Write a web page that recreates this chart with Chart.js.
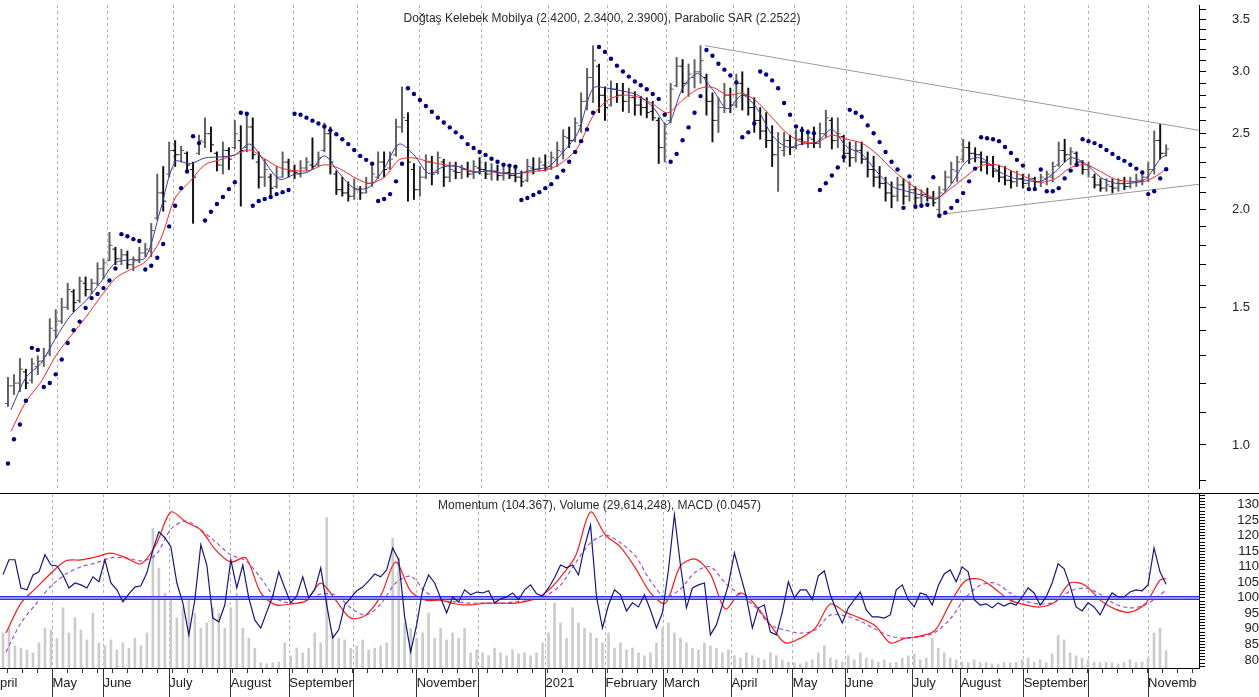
<!DOCTYPE html>
<html>
<head>
<meta charset="utf-8">
<title>Doğtaş Kelebek Mobilya</title>
<script src="https://cdn.jsdelivr.net/npm/chart.js@4.4.0/dist/chart.umd.min.js"></script>
<style>
  html, body { margin: 0; padding: 0; background: #fff; }
  canvas { display: block; }
  .sep { width: 1259px; height: 1px; background: #000; }
</style>
</head>
<body>
<canvas id="priceChart" width="1259" height="493"></canvas>
<div class="sep"></div>
<canvas id="indChart" width="1259" height="203"></canvas>
<script>
// x axis is in trading days; month starts and their labels
const monthDays = [0, 17.5, 34.5, 56.5, 77, 96.5, 118, 139, 159.5, 182, 202, 221.5, 244, 264.5, 282, 304.5, 320.5, 341.5, 363, 383];
const monthLabels = ['pril', 'May', 'June', 'July', 'August', 'September', '', 'November', '', '2021', 'February', 'March', 'April', 'May', 'June', 'July', 'August', 'September', '', 'Novemb'];

// price bars, one every 2 trading days
const opens = [
  1.13,1.19,1.2,1.24,1.21,1.26,1.28,1.31,1.4,1.44,
  1.5,1.57,1.53,1.61,1.58,1.61,1.68,1.72,1.78,1.73,
  1.75,1.7,1.72,1.76,1.77,1.95,2.1,2.22,2.38,2.35,
  2.36,2.25,2.36,2.44,2.5,2.36,2.28,2.38,2.4,2.45,
  2.4,2.55,2.3,2.2,2.2,2.14,2.2,2.3,2.24,2.22,
  2.26,2.28,2.28,2.38,2.5,2.22,2.12,2.1,2.08,2.12,
  2.1,2.16,2.2,2.3,2.26,2.35,2.55,2.6,2.25,2.12,
  2.2,2.3,2.23,2.3,2.2,2.24,2.23,2.25,2.22,2.26,
  2.25,2.22,2.24,2.21,2.23,2.21,2.2,2.18,2.26,2.25,
  2.28,2.27,2.32,2.37,2.47,2.45,2.56,2.75,2.95,3.05,
  2.8,2.72,2.85,2.8,2.75,2.78,2.72,2.7,2.67,2.6,
  2.4,2.6,2.88,3.05,2.9,2.95,3.0,2.95,2.75,2.6,
  2.7,2.8,2.72,2.9,2.8,2.7,2.6,2.52,2.45,2.35,
  2.38,2.45,2.4,2.46,2.44,2.46,2.43,2.5,2.6,2.45,
  2.48,2.36,2.33,2.38,2.32,2.25,2.2,2.16,2.1,2.08,
  2.15,2.08,2.12,2.07,2.09,2.07,2.0,2.12,2.2,2.24,
  2.32,2.4,2.36,2.35,2.3,2.28,2.24,2.2,2.18,2.17,
  2.19,2.16,2.19,2.17,2.19,2.2,2.28,2.38,2.35,2.36,
  2.3,2.25,2.2,2.15,2.13,2.14,2.13,2.16,2.14,2.17,
  2.18,2.2,2.25,2.45,2.36
];
const highs = [
  1.22,1.23,1.29,1.25,1.29,1.30,1.33,1.45,1.49,1.54,
  1.61,1.58,1.64,1.64,1.63,1.71,1.73,1.87,1.79,1.78,
  1.77,1.74,1.79,1.81,1.92,2.22,2.27,2.44,2.45,2.41,
  2.37,2.30,2.49,2.62,2.55,2.37,2.44,2.40,2.6,2.56,
  2.66,2.62,2.37,2.32,2.22,2.27,2.37,2.32,2.28,2.31,
  2.33,2.47,2.37,2.58,2.55,2.24,2.2,2.17,2.19,2.14,
  2.2,2.27,2.37,2.37,2.37,2.61,2.87,2.66,2.29,2.27,
  2.35,2.34,2.37,2.32,2.3,2.3,2.28,2.3,2.31,2.33,
  2.3,2.29,2.28,2.27,2.28,2.27,2.24,2.32,2.33,2.33,
  2.35,2.37,2.44,2.53,2.55,2.62,2.82,3.03,3.24,3.07,
  2.87,2.92,2.9,2.9,2.86,2.83,2.79,2.78,2.75,2.62,
  2.58,2.9,3.13,3.11,3.07,3.11,3.24,2.98,2.82,2.78,
  2.9,2.86,2.98,3.0,2.86,2.78,2.7,2.66,2.56,2.51,
  2.51,2.49,2.53,2.55,2.53,2.55,2.58,2.68,2.62,2.62,
  2.49,2.44,2.44,2.44,2.37,2.34,2.27,2.2,2.17,2.2,
  2.19,2.17,2.14,2.12,2.13,2.11,2.14,2.24,2.3,2.34,
  2.46,2.44,2.4,2.37,2.34,2.34,2.28,2.27,2.24,2.24,
  2.22,2.22,2.2,2.22,2.24,2.3,2.44,2.46,2.4,2.37,
  2.31,2.3,2.22,2.19,2.19,2.19,2.19,2.2,2.2,2.22,
  2.24,2.3,2.52,2.57,2.42
];
const lows = [
  1.12,1.16,1.17,1.18,1.2,1.23,1.26,1.30,1.37,1.43,
  1.49,1.48,1.52,1.55,1.56,1.60,1.63,1.72,1.70,1.70,
  1.68,1.67,1.71,1.74,1.74,1.94,1.99,2.2,2.27,2.30,
  2.24,1.92,2.35,2.40,2.37,2.24,2.22,2.25,2.39,2.02,
  2.37,2.32,2.13,2.14,2.09,2.13,2.2,2.2,2.19,2.2,
  2.24,2.25,2.27,2.37,2.22,2.09,2.08,2.05,2.06,2.06,
  2.1,2.14,2.19,2.2,2.25,2.34,2.51,2.05,2.06,2.08,
  2.19,2.15,2.22,2.14,2.17,2.19,2.19,2.2,2.19,2.22,
  2.19,2.18,2.18,2.18,2.19,2.17,2.14,2.17,2.22,2.24,
  2.24,2.25,2.27,2.32,2.4,2.44,2.51,2.68,2.74,2.66,
  2.6,2.71,2.74,2.67,2.66,2.64,2.64,2.62,2.6,2.29,
  2.3,2.58,2.87,2.82,2.79,2.86,2.9,2.64,2.44,2.51,
  2.66,2.66,2.7,2.68,2.64,2.51,2.46,2.4,2.27,2.11,
  2.34,2.35,2.39,2.42,2.4,2.4,2.4,2.47,2.39,2.4,
  2.3,2.27,2.3,2.29,2.2,2.14,2.13,2.05,2.01,2.05,
  2.03,2.05,2.03,2.03,2.05,2.02,1.96,2.11,2.16,2.17,
  2.3,2.29,2.3,2.24,2.22,2.2,2.17,2.15,2.13,2.14,
  2.13,2.14,2.13,2.14,2.15,2.17,2.27,2.3,2.28,2.27,
  2.22,2.2,2.13,2.11,2.11,2.1,2.11,2.12,2.13,2.14,
  2.15,2.17,2.22,2.32,2.34
];
const closes = [
  1.19,1.2,1.25,1.2,1.27,1.28,1.3,1.41,1.44,1.5,
  1.58,1.52,1.62,1.58,1.61,1.68,1.71,1.8,1.73,1.75,
  1.7,1.72,1.76,1.78,1.88,2.1,2.05,2.38,2.35,2.38,
  2.28,2.2,2.45,2.5,2.42,2.28,2.38,2.32,2.5,2.38,
  2.55,2.35,2.2,2.25,2.13,2.2,2.3,2.24,2.23,2.26,
  2.3,2.27,2.33,2.5,2.3,2.12,2.1,2.08,2.12,2.1,
  2.16,2.22,2.3,2.25,2.32,2.55,2.62,2.3,2.12,2.2,
  2.3,2.22,2.33,2.2,2.25,2.23,2.25,2.22,2.27,2.25,
  2.22,2.24,2.21,2.23,2.21,2.2,2.17,2.27,2.25,2.3,
  2.26,2.33,2.38,2.48,2.45,2.58,2.75,2.95,3.1,2.8,
  2.7,2.85,2.8,2.75,2.78,2.72,2.7,2.66,2.62,2.4,
  2.5,2.85,3.05,2.9,2.98,3.0,3.1,2.75,2.6,2.7,
  2.8,2.72,2.9,2.8,2.7,2.6,2.52,2.45,2.35,2.4,
  2.45,2.4,2.46,2.44,2.47,2.43,2.5,2.62,2.45,2.5,
  2.36,2.33,2.38,2.32,2.25,2.2,2.16,2.1,2.08,2.15,
  2.08,2.12,2.07,2.09,2.07,2.04,2.1,2.2,2.25,2.3,
  2.4,2.36,2.35,2.3,2.28,2.24,2.2,2.18,2.17,2.19,
  2.16,2.19,2.17,2.2,2.22,2.27,2.38,2.35,2.37,2.3,
  2.25,2.27,2.15,2.13,2.15,2.13,2.16,2.14,2.17,2.18,
  2.2,2.25,2.45,2.36,2.39
];
const sar = [
  0.947,1.017,1.062,1.139,1.331,1.323,1.186,1.2,1.231,1.286,
  1.35,1.402,1.438,1.497,1.541,1.56,1.587,1.623,1.681,1.86,
  1.849,1.833,1.823,1.676,1.695,1.735,1.807,1.903,2.022,2.13,
  2.237,2.481,2.432,1.936,1.987,2.033,2.075,2.124,2.167,2.659,
  2.651,2.022,2.051,2.063,2.075,2.093,2.105,2.118,2.651,2.644,
  2.621,2.598,2.576,2.554,2.525,2.496,2.46,2.425,2.383,2.342,
  2.315,2.289,2.051,2.063,2.093,2.173,2.289,2.858,2.81,2.761,
  2.713,2.667,2.621,2.584,2.547,2.51,2.474,2.425,2.397,2.369,
  2.349,2.322,2.302,2.282,2.276,2.269,2.057,2.069,2.087,2.105,
  2.13,2.155,2.199,2.243,2.302,2.369,2.446,2.532,2.659,3.227,
  3.181,3.117,3.055,3.002,2.958,2.916,2.884,2.85,2.81,2.77,
  2.644,2.302,2.356,2.453,2.547,2.659,2.793,3.199,3.145,3.072,
  3.019,2.967,2.908,2.474,2.51,2.576,3.002,2.976,2.925,2.858,
  2.737,2.644,2.554,2.525,2.51,2.503,2.118,2.161,2.211,2.263,
  2.335,2.682,2.659,2.628,2.562,2.503,2.439,2.369,2.302,2.25,
  2.01,2.205,2.016,2.022,2.028,2.199,1.964,1.981,2.01,2.051,
  2.099,2.173,2.256,2.474,2.467,2.46,2.446,2.404,2.362,2.315,
  2.276,2.124,2.124,2.25,2.111,2.111,2.13,2.192,2.243,2.282,
  2.46,2.446,2.432,2.411,2.383,2.356,2.328,2.308,2.282,2.256,
  2.231,2.093,2.111,2.192,2.2522
];

// moving averages, one reading every 5 trading days (last one is the final day)
const maFast = [
  1.109,1.22,1.271,1.37,1.464,1.528,1.614,1.710,1.725,1.735,
  1.993,2.302,2.289,2.328,2.335,2.349,2.425,2.302,2.186,2.218,
  2.237,2.342,2.224,2.13,2.136,2.256,2.425,2.349,2.224,2.269,
  2.269,2.231,2.243,2.224,2.224,2.25,2.269,2.369,2.51,2.858,
  2.858,2.834,2.801,2.705,2.569,2.858,2.985,2.85,2.69,2.801,
  2.69,2.489,2.404,2.425,2.439,2.532,2.404,2.356,2.237,2.142,
  2.111,2.087,2.063,2.155,2.302,2.328,2.25,2.199,2.18,2.173,
  2.237,2.328,2.289,2.199,2.161,2.161,2.186,2.322,2.349
];
const maSlow = [
  1.041,1.136,1.203,1.30,1.378,1.455,1.546,1.633,1.676,1.715,
  1.828,2.069,2.173,2.282,2.315,2.349,2.383,2.322,2.263,2.243,
  2.243,2.282,2.256,2.199,2.161,2.199,2.315,2.328,2.302,2.282,
  2.269,2.237,2.237,2.224,2.224,2.237,2.25,2.302,2.404,2.636,
  2.761,2.801,2.785,2.729,2.659,2.761,2.85,2.867,2.801,2.817,
  2.745,2.621,2.503,2.439,2.439,2.489,2.46,2.432,2.356,2.256,
  2.173,2.111,2.069,2.13,2.205,2.276,2.282,2.243,2.199,2.167,
  2.192,2.263,2.282,2.237,2.186,2.173,2.173,2.224,2.256
];

// trend lines (day, price)
const upperTrendDays = [234.5, 400];
const upperTrendPrices = [3.24, 2.525];
const lowerTrendDays = [312.5, 400];
const lowerTrendPrices = [1.97, 2.154];

// lower panel
const momentum = [
  107.5,112.3,112.3,103.2,102.6,107.4,108.4,113.9,110.6,110.3,
  107.4,103.2,104.8,104.2,103.2,106.8,105.2,112.3,104.8,102.6,
  98.7,101.3,103.5,103.9,108.1,115.5,121.3,119.4,116.5,104.8,
  98.4,88.1,99.4,117.1,110.6,93.5,92.3,97.7,112.3,103.2,
  110.6,100,92.9,90.3,95.5,100.6,108.4,103.2,98.4,100.6,
  106.8,100,102.6,109.7,97.7,87.1,89.7,97.7,100,102.3,
  103.5,105.5,107.7,106.8,109,116.1,112.3,93.9,82.6,91.3,
  102.6,107.4,104.8,100,95.2,100.3,98.7,102.6,101,101.9,
  101.6,102.3,98.4,99.7,100.3,101.6,99.4,102.6,104.2,101.3,
  100.6,103.2,106.5,110.6,109.7,110.6,107.4,116.5,123.5,100.3,
  90.3,97.7,102.6,101,95.8,98.4,97.1,101,96.1,90.3,
  95.2,109,126.8,110.6,96.8,103.2,104.2,104.8,88.1,91.3,
  97.7,104.2,114.5,107.4,100.3,90.3,96.8,97.7,89,88.1,
  95.5,105.2,100,102.6,102.6,99.4,107.1,108.7,101,96.1,
  91.9,96.8,99.4,101.9,96.1,93.9,93.9,93.5,94.5,102.6,
  104.2,99.4,97.1,101.6,101,97.7,103.9,107.7,109,105.2,
  110,108.4,99.4,97.7,98.1,96.8,98.4,97.4,98.4,97.7,
  100.3,103.2,101.6,97.7,100.3,104.8,111,109.4,103.9,97.1,
  95.8,98.4,97.1,94.5,98.4,101.6,100.3,100.3,101.9,102.6,
  102.3,104.2,116.1,108.4,104.367
];
// volume in millions of shares
const volume = [
  60,68,38,34,31,26,43,68,65,51,
  103,60,86,65,48,94,43,38,48,31,
  43,34,51,38,60,239,171,128,120,86,
  103,120,94,68,77,103,94,68,103,128,
  68,51,34,9,7,9,10,43,21,34,
  26,34,60,43,257,60,51,48,34,38,
  48,31,34,38,43,222,188,77,68,51,
  60,94,51,68,48,60,51,68,26,31,
  26,21,34,26,21,31,24,26,21,26,
  43,60,111,77,51,103,77,68,60,51,
  43,60,34,43,31,34,26,21,26,43,
  68,77,60,51,43,34,31,43,38,34,
  26,31,21,17,26,21,17,14,26,21,
  14,10,9,7,10,14,26,38,17,14,
  10,21,14,26,17,14,10,14,9,10,
  17,21,24,14,17,51,34,26,17,14,
  10,9,14,10,9,7,7,10,9,10,
  14,17,10,14,9,24,56,48,26,21,
  17,14,10,9,10,9,7,10,14,9,
  10,17,60,68,29.614
];
const macd = [
  -0.082,-0.012,0.023,0.058,0.087,0.089,0.096,0.105,0.094,0.080,
  0.124,0.201,0.178,0.159,0.112,0.084,0.094,0.012,-0.016,-0.014,
  -0.007,0.035,-0.005,-0.047,-0.040,0.005,0.084,0.016,-0.005,-0.005,
  -0.014,-0.016,-0.012,-0.012,-0.012,-0.005,0.012,0.049,0.098,0.201,
  0.147,0.119,0.070,0.012,-0.012,0.075,0.091,0.056,-0.026,0.012,
  -0.016,-0.063,-0.105,-0.094,-0.070,-0.014,-0.033,-0.047,-0.065,-0.105,
  -0.094,-0.089,-0.075,-0.012,0.040,0.044,0.021,-0.005,-0.016,-0.021,
  -0.009,0.035,0.030,-0.005,-0.026,-0.033,-0.014,0.042,0.0457
];
const macdSignal = [
  -0.126,-0.058,-0.014,0.028,0.056,0.073,0.082,0.094,0.094,0.087,
  0.101,0.161,0.180,0.159,0.131,0.101,0.087,0.047,0.000,-0.012,
  -0.007,0.009,0.007,-0.023,-0.040,-0.014,0.035,0.051,0.014,-0.005,
  -0.009,-0.012,-0.012,-0.012,-0.009,-0.005,0.005,0.030,0.082,0.129,
  0.147,0.129,0.098,0.040,0.002,0.021,0.061,0.073,0.035,0.007,
  -0.021,-0.063,-0.075,-0.082,-0.075,-0.040,-0.042,-0.054,-0.073,-0.089,
  -0.094,-0.091,-0.080,-0.049,0.000,0.030,0.035,0.012,-0.007,-0.014,
  -0.009,0.016,0.023,0.009,-0.014,-0.023,-0.016,0.007,0.019
];
const refLevel = 100;

// axis ticks
const priceTicks = [0.9,1.0,1.1,1.2,1.3,1.4,1.5,1.6,1.7,1.8,1.9,2.0,2.1,2.2,2.3,2.4,2.5,2.6,2.7,2.8,2.9,3.0,3.1,3.2,3.3,3.4,3.5,3.6];
const priceTickLabels = [1.0, 1.5, 2.0, 2.5, 3.0, 3.5];
const momTickLabels = [80, 85, 90, 95, 100, 105, 110, 115, 120, 125, 130];

const priceTitle = 'Doğtaş Kelebek Mobilya (2.4200, 2.3400, 2.3900), Parabolic SAR (2.2522)';
const indTitle = 'Momentum (104.367), Volume (29,614,248), MACD (0.0457)';

// ---- helpers ----
const barDays = opens.map((_, i) => 2 * i + 1);
const lineDays = maFast.map((_, j) => (j < maFast.length - 1 ? 2 + 5 * j : 389));
const pts = (days, vals, dx = 0) => days.map((d, i) => ({ x: d + dx, y: vals[i] }));
const barColor = i => (closes[i] >= opens[i] ? '#5e5e5e' : '#101010');

Chart.defaults.font.family = '"Liberation Sans", Arial, sans-serif';
Chart.defaults.color = '#222';

const panelTitle = {
  id: 'panelTitle',
  afterDraw(chart, args, opts) {
    const { ctx, chartArea } = chart;
    ctx.save();
    ctx.font = '12px "Liberation Sans", Arial, sans-serif';
    ctx.fillStyle = '#2a2a2a';
    ctx.textAlign = 'center';
    ctx.textBaseline = 'middle';
    ctx.fillText(opts.text, (chartArea.left + chartArea.right) / 2, chartArea.top + opts.y);
    ctx.restore();
  }
};

// short weekly marks under the time axis
const weekMarks = {
  id: 'weekMarks',
  afterDraw(chart) {
    const xs = chart.scales.x;
    const ctx = chart.ctx;
    const y0 = chart.chartArea.bottom;
    ctx.save();
    ctx.strokeStyle = '#333';
    ctx.lineWidth = 1;
    ctx.beginPath();
    for (let d = 2.5; d < 400; d += 5) {
      const px = Math.round(xs.getPixelForValue(d)) + 0.5;
      ctx.moveTo(px, y0);
      ctx.lineTo(px, y0 + 5);
    }
    ctx.stroke();
    ctx.restore();
  }
};

function monthAxis(showLabels) {
  return {
    type: 'linear',
    min: 0,
    max: 400,
    offset: false,
    afterBuildTicks: s => { s.ticks = monthDays.map(v => ({ value: v })); },
    afterFit: s => { s.height = showLabels ? 29 : 0; s.paddingLeft = 0; s.paddingRight = 0; },
    grid: {
      offset: false,
      color: c => (c.index === 0 ? 'rgba(0,0,0,0)' : '#b4b4b4'),
      lineWidth: 1,
      drawTicks: showLabels,
      tickLength: 29,
      tickColor: c => (c.index === 0 ? 'rgba(0,0,0,0)' : '#333')
    },
    border: { display: showLabels, color: '#000', dash: [3, 3] },
    ticks: {
      display: showLabels,
      autoSkip: false,
      maxRotation: 0,
      align: 'start',
      padding: -21,
      color: '#222',
      font: { size: 13 },
      callback: (v, i) => monthLabels[i]
    }
  };
}

new Chart(document.getElementById('priceChart'), {
  type: 'scatter',
  data: {
    datasets: [
      { type: 'scatter', label: 'Parabolic SAR', data: pts(barDays, sar), pointRadius: 2.2, pointBackgroundColor: '#000080', pointBorderWidth: 0, showLine: false, order: 0 },
      { type: 'line', label: 'MA fast', data: pts(lineDays, maFast), borderColor: '#3a3aaa', borderWidth: 1, pointRadius: 0, tension: 0.3, order: 1 },
      { type: 'line', label: 'MA slow', data: pts(lineDays, maSlow), borderColor: '#ff2424', borderWidth: 1, pointRadius: 0, tension: 0.3, order: 2 },
      { type: 'line', label: 'Upper trend', data: pts(upperTrendDays, upperTrendPrices), borderColor: '#9a9a9a', borderWidth: 1, pointRadius: 0, order: 3 },
      { type: 'line', label: 'Lower trend', data: pts(lowerTrendDays, lowerTrendPrices), borderColor: '#9a9a9a', borderWidth: 1, pointRadius: 0, order: 3 },
      { type: 'scatter', label: 'Close', data: pts(barDays, closes, 0.5), pointStyle: 'line', pointRadius: 1.5, pointBorderWidth: 1, pointBorderColor: c => barColor(c.dataIndex), order: 4 },
      { type: 'scatter', label: 'Open', data: pts(barDays, opens, -0.5), pointStyle: 'line', pointRadius: 1.5, pointBorderWidth: 1, pointBorderColor: c => barColor(c.dataIndex), order: 5 },
      { type: 'bar', label: 'High-Low', data: barDays.map((d, i) => ({ x: d, y: [lows[i], highs[i]] })), barThickness: 1.3, backgroundColor: c => barColor(c.dataIndex), borderWidth: 0, order: 6 }
    ]
  },
  options: {
    responsive: false,
    animation: false,
    devicePixelRatio: 1,
    layout: { padding: 0 },
    plugins: { legend: { display: false }, tooltip: { enabled: false }, panelTitle: { text: priceTitle, y: 14 } },
    scales: {
      x: monthAxis(false),
      y: {
        type: 'logarithmic',
        position: 'right',
        min: 0.881,
        max: 3.652,
        beginAtZero: false,
        afterBuildTicks: s => { s.ticks = priceTicks.map(v => ({ value: v })); },
        afterFit: s => { s.width = 60; s.paddingTop = 0; s.paddingBottom = 0; },
        grid: { drawOnChartArea: false, drawTicks: true, tickLength: 7, tickColor: '#000' },
        border: { display: true, color: '#000' },
        ticks: {
          autoSkip: false,
          padding: 26,
          color: '#222',
          font: { size: 13 },
          callback: v => (priceTickLabels.some(p => Math.abs(p - v) < 1e-6) ? v.toFixed(1) : '')
        }
      }
    }
  },
  plugins: [panelTitle]
});

const momTicks = [];
for (let v = 78; v <= 133; v++) momTicks.push(v);

new Chart(document.getElementById('indChart'), {
  type: 'scatter',
  data: {
    datasets: [
      { type: 'line', label: 'Momentum', data: pts(barDays, momentum), borderColor: '#16167e', borderWidth: 1.2, pointRadius: 0, yAxisID: 'y', order: 0 },
      { type: 'line', label: 'Ref', data: [{ x: 0, y: refLevel }, { x: 400, y: refLevel }], borderColor: '#b0b0ff', borderWidth: 1.5, pointRadius: 0, yAxisID: 'y', order: 1 },
      { type: 'line', label: 'Ref edge', data: [{ x: 0, y: refLevel }, { x: 400, y: refLevel }], borderColor: '#3030ff', borderWidth: 4, pointRadius: 0, yAxisID: 'y', order: 2 },
      { type: 'line', label: 'MACD', data: pts(lineDays, macd), borderColor: '#ff1a1a', borderWidth: 1.2, pointRadius: 0, tension: 0.3, yAxisID: 'macd', order: 3 },
      { type: 'line', label: 'Signal', data: pts(lineDays, macdSignal), borderColor: '#a050c8', borderWidth: 1.2, borderDash: [4, 3], pointRadius: 0, tension: 0.3, yAxisID: 'macd', order: 4 },
      { type: 'bar', label: 'Volume', data: pts(barDays, volume), barThickness: 2, backgroundColor: '#cccccc', borderWidth: 0, yAxisID: 'vol', order: 5 }
    ]
  },
  options: {
    responsive: false,
    animation: false,
    devicePixelRatio: 1,
    layout: { padding: 0 },
    plugins: { legend: { display: false }, tooltip: { enabled: false }, panelTitle: { text: indTitle, y: 12 } },
    scales: {
      x: monthAxis(true),
      y: {
        type: 'linear',
        position: 'right',
        min: 77.4,
        max: 133.5,
        afterBuildTicks: s => { s.ticks = momTicks.map(v => ({ value: v })); },
        afterFit: s => { s.width = 60; s.paddingTop = 0; s.paddingBottom = 0; },
        grid: { drawOnChartArea: false, drawTicks: true, tickLength: 6, tickColor: '#000' },
        border: { display: true, color: '#000' },
        ticks: {
          autoSkip: false,
          padding: 26,
          crossAlign: 'far',
          color: '#222',
          font: { size: 13 },
          callback: v => (momTickLabels.includes(v) ? String(v) : '')
        }
      },
      macd: { type: 'linear', axis: 'y', position: 'right', display: false, min: -0.1637, max: 0.2433 },
      vol: { type: 'linear', axis: 'y', position: 'right', display: false, min: 0, max: 297.5, beginAtZero: true }
    }
  },
  plugins: [panelTitle, weekMarks]
});
</script>
</body>
</html>
